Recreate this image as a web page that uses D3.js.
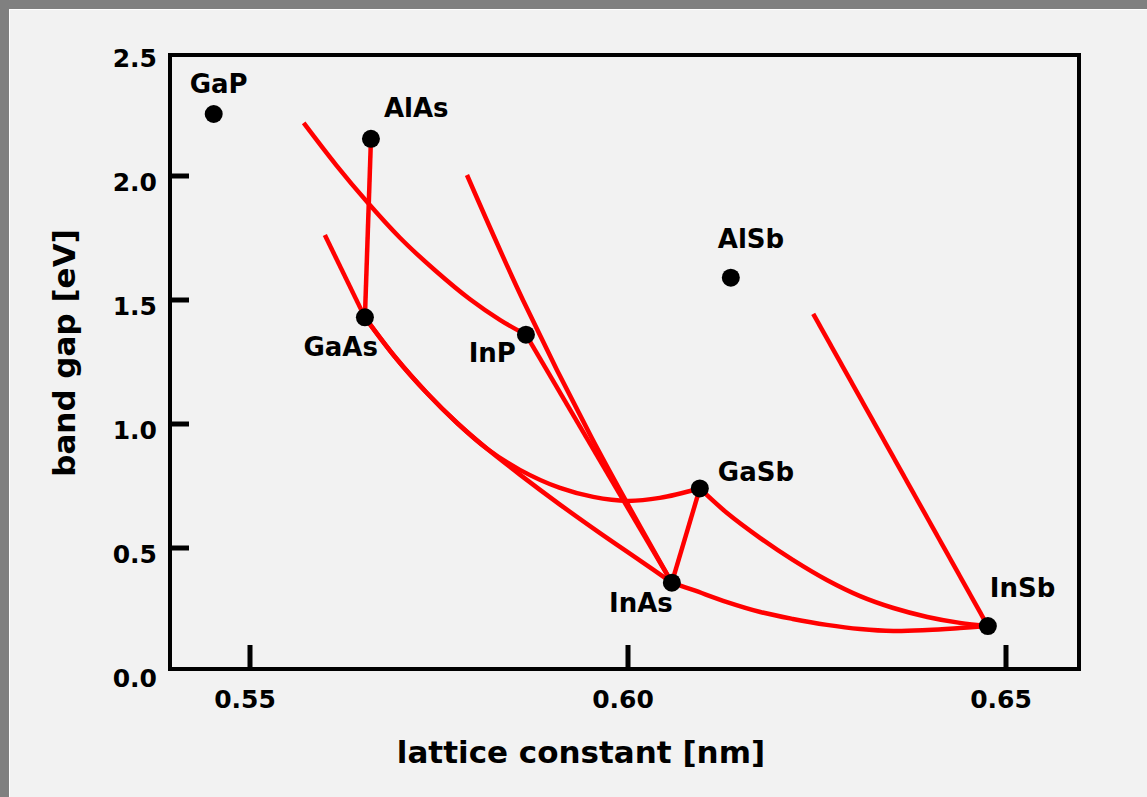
<!DOCTYPE html>
<html lang="en">
<head>
    <meta charset="UTF-8">
    <title>Band gap vs lattice constant</title>
    <script src="https://d3js.org/d3.v7.min.js"></script>
    <style>
        html, body {
            margin: 0;
            padding: 0;
            background: #f2f2f2;
        }
        svg text {
            font-family: "DejaVu Sans", Verdana, sans-serif;
            font-weight: bold;
            fill: #000;
        }
    </style>
</head>
<body>
    <svg id="chart" width="1147" height="797"></svg>
    <script>
        // binary compounds
        const compounds = ["GaP", "AlAs", "GaAs", "InP", "AlSb", "GaSb", "InAs", "InSb"];
        const latticeNm = [0.5452, 0.5660, 0.5652, 0.5865, 0.6136, 0.6095, 0.6058, 0.6476];
        const bandGapEv = [2.25, 2.15, 1.43, 1.36, 1.59, 0.74, 0.36, 0.185];

        // ternary alloy curves, [lattice constant, band gap]
        const alloyAlGaAs = [[0.5660, 2.15], [0.5652, 1.43]];
        const alloyGaInP = [[0.5571, 2.214], [0.5614, 2.044], [0.5655, 1.895], [0.5698, 1.752],
                            [0.5745, 1.619], [0.5791, 1.503], [0.5831, 1.419], [0.5865, 1.36]];
        const alloyInAsP = [[0.5865, 1.36], [0.6058, 0.36]];
        const alloyAlInAs = [[0.5787, 2.004], [0.5861, 1.500], [0.5952, 0.944], [0.6058, 0.36]];
        const alloyGaAsP = [[0.5599, 1.762], [0.5652, 1.43]];
        const alloyGaAsSb = [[0.5652, 1.43], [0.5693, 1.266], [0.5734, 1.125], [0.5774, 1.004], [0.5814, 0.899],
                             [0.5857, 0.815], [0.5910, 0.742], [0.5954, 0.706], [0.5999, 0.690], [0.6042, 0.702],
                             [0.6095, 0.74]];
        const alloyInGaAs = [[0.5652, 1.43], [0.5693, 1.266], [0.5734, 1.125], [0.5774, 1.004], [0.5814, 0.899],
                             [0.5857, 0.796], [0.5910, 0.675], [0.5963, 0.560], [0.6016, 0.449], [0.6058, 0.36]];
        const alloyGaInSbAs = [[0.6095, 0.74], [0.6058, 0.36]];
        const alloyGaInSb = [[0.6095, 0.74], [0.6131, 0.641], [0.6175, 0.540], [0.6218, 0.452], [0.6263, 0.371],
                             [0.6307, 0.306], [0.6351, 0.258], [0.6396, 0.222], [0.6439, 0.198], [0.6476, 0.185]];
        const alloyInAsSb = [[0.6058, 0.36], [0.6086, 0.331], [0.6131, 0.282], [0.6175, 0.242], [0.6218, 0.214],
                             [0.6263, 0.190], [0.6307, 0.173], [0.6351, 0.165], [0.6396, 0.169], [0.6439, 0.177],
                             [0.6476, 0.185]];
        const alloyAlInSb = [[0.6245, 1.444], [0.6476, 0.185]];

        const xTicks = [0.55, 0.60, 0.65];
        const yTicks = [0.0, 0.5, 1.0, 1.5, 2.0, 2.5];

        const width = 1147;
        const height = 797;
        const frame = {left: 170, right: 1079, top: 55, bottom: 669};

        const svg = d3.select("#chart");

        // window border like the original screenshot
        svg.append("rect").attr("width", width).attr("height", height).attr("fill", "#f2f2f2");
        svg.append("rect").attr("width", width).attr("height", 9).attr("fill", "#808080");
        svg.append("rect").attr("width", 9).attr("height", height).attr("fill", "#808080");
        svg.append("path")
           .attr("d", `M9.5,${height} V9.5 H${width}`)
           .attr("fill", "none")
           .attr("stroke", "#fff")
           .attr("stroke-width", 1);

        const x = d3.scaleLinear().domain([0.54, 0.66]).range([174.4, 1081.6]);
        const y = d3.scaleLinear().domain([0, 2.5]).range([672, 52]);

        // frame
        svg.append("rect")
           .attr("x", frame.left)
           .attr("y", frame.top)
           .attr("width", frame.right - frame.left)
           .attr("height", frame.bottom - frame.top)
           .attr("fill", "none")
           .attr("stroke", "#000")
           .attr("stroke-width", 4);

        // inward ticks
        svg.selectAll(".xtick")
           .data(xTicks)
           .enter()
           .append("line")
           .attr("x1", d => x(d)).attr("x2", d => x(d))
           .attr("y1", frame.bottom).attr("y2", frame.bottom - 24)
           .attr("stroke", "#000").attr("stroke-width", 5);

        svg.selectAll(".ytick")
           .data(yTicks.filter(d => d > 0 && d < 2.5))
           .enter()
           .append("line")
           .attr("x1", frame.left).attr("x2", frame.left + 19)
           .attr("y1", d => y(d)).attr("y2", d => y(d))
           .attr("stroke", "#000").attr("stroke-width", 5);

        svg.selectAll(".xlabel")
           .data(xTicks)
           .enter()
           .append("text")
           .attr("x", d => x(d) - 5)
           .attr("y", 708)
           .attr("text-anchor", "middle")
           .style("font-size", "25px")
           .text(d => d.toFixed(2));

        svg.selectAll(".ylabel")
           .data(yTicks)
           .enter()
           .append("text")
           .attr("x", 157)
           .attr("y", d => y(d) + 6)
           .attr("dy", "0.35em")
           .attr("text-anchor", "end")
           .style("font-size", "25px")
           .text(d => d.toFixed(1));

        // axis titles
        svg.append("text")
           .attr("x", 581)
           .attr("y", 763)
           .attr("text-anchor", "middle")
           .style("font-size", "31px")
           .text("lattice constant [nm]");

        svg.append("text")
           .attr("transform", "translate(75,353) rotate(-90)")
           .attr("text-anchor", "middle")
           .style("font-size", "31px")
           .text("band gap [eV]");

        // alloy curves
        const line = d3.line()
                       .x(d => x(d[0]))
                       .y(d => y(d[1]))
                       .curve(d3.curveCatmullRom.alpha(0.5));

        const alloys = [alloyAlGaAs, alloyGaInP, alloyInAsP, alloyAlInAs, alloyGaAsP, alloyGaAsSb,
                        alloyInGaAs, alloyGaInSbAs, alloyGaInSb, alloyInAsSb, alloyAlInSb];

        svg.selectAll(".alloy")
           .data(alloys)
           .enter()
           .append("path")
           .attr("class", "alloy")
           .attr("d", line)
           .attr("fill", "none")
           .attr("stroke", "#ff0000")
           .attr("stroke-width", 4.5);

        // compounds
        const points = compounds.map((name, i) => ({name, a: latticeNm[i], eg: bandGapEv[i]}));

        svg.selectAll(".dot")
           .data(points)
           .enter()
           .append("circle")
           .attr("cx", d => x(d.a))
           .attr("cy", d => y(d.eg))
           .attr("r", 9)
           .attr("fill", "#000");

        const labelPos = {
            GaP:  {dx: -24, dy: -21, anchor: "start"},
            AlAs: {dx: 13,  dy: -22, anchor: "start"},
            GaAs: {dx: 13,  dy: 39,  anchor: "end"},
            InP:  {dx: -10, dy: 27,  anchor: "end"},
            AlSb: {dx: -13, dy: -30, anchor: "start"},
            GaSb: {dx: 18,  dy: -7,  anchor: "start"},
            InAs: {dx: 1,   dy: 29,  anchor: "end"},
            InSb: {dx: 2,   dy: -29, anchor: "start"}
        };

        svg.selectAll(".name")
           .data(points)
           .enter()
           .append("text")
           .attr("x", d => x(d.a) + labelPos[d.name].dx)
           .attr("y", d => y(d.eg) + labelPos[d.name].dy)
           .attr("text-anchor", d => labelPos[d.name].anchor)
           .style("font-size", "26px")
           .text(d => d.name);
    </script>
</body>
</html>
